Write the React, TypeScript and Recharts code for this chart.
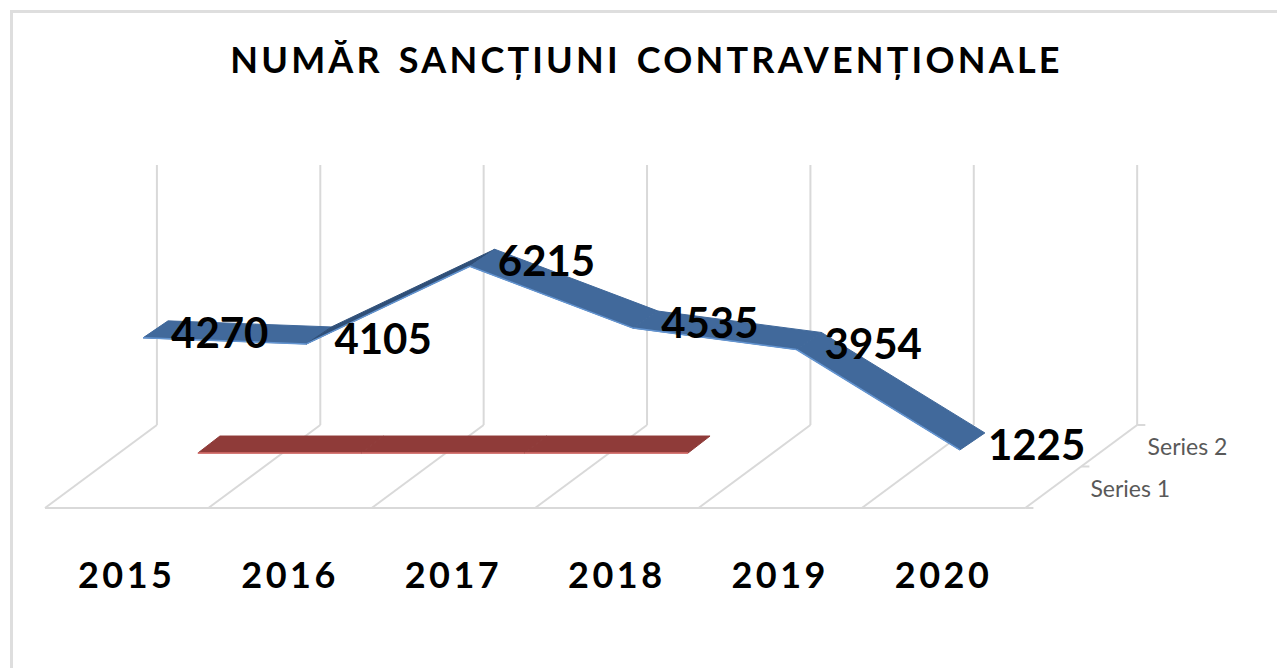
import React from "react";
import { LineChart, Line, XAxis, YAxis, ReferenceLine, ReferenceDot, LabelList } from "recharts";

const titleText = "NUMĂR SANCȚIUNI CONTRAVENȚIONALE";
const years = ["2015", "2016", "2017", "2018", "2019", "2020"];
const series2Values = [4270, 4105, 6215, 4535, 3954, 1225];
const series1Values = [0, 0, 0, 0, null, null];
const depthLabels = ["Series 1", "Series 2"];

const chartData = years.map((year, i) => ({
  i,
  year,
  series2: series2Values[i],
  series1: series1Values[i],
}));

// floor axes: the others are the same scale pushed back along the 3D depth
const floorX: [number, number] = [-0.5, 6.184];
const floorY: [number, number] = [-353, 8967];
const wallX = 0.685; // depth run of the floor, in category units
const wallY = 1902; // value where the floor meets the back wall
const gridColor = "#d9d9d9";
const fontName = "Lato, Carlito, sans-serif";

interface RibbonProps {
  cx?: number;
  cy?: number;
  index?: number;
  points?: Array<{ x: number; y: number | null; value?: unknown }>;
  values: Array<number | null>;
  fill: string;
  rising: string;
  edge: string;
  dx: number;
  dy: number;
}

// one skewed quad per segment, from this point to the next one
const RibbonDot = ({ cx, cy, index = 0, points, values, fill, rising, edge, dx, dy }: RibbonProps) => {
  const next = points ? points[index + 1] : undefined;
  if (cx == null || cy == null || !next || next.y == null || values[index + 1] == null) {
    return <g key={index} />;
  }
  const up = (values[index + 1] as number) > (values[index] as number);
  const quad = `${cx},${cy} ${next.x},${next.y} ${next.x + dx},${next.y - dy} ${cx + dx},${cy - dy}`;
  return (
    <g key={index}>
      <polygon points={quad} fill={up ? rising : fill} stroke={up ? rising : fill} strokeWidth={1} />
      <line x1={cx} y1={cy} x2={next.x} y2={next.y} stroke={edge} strokeWidth={1.5} />
    </g>
  );
};

export default function App() {
  const gridLines = [0, 1, 2, 3, 4, 5, 6].map((n) => n - 0.5);
  return (
    <div style={{ position: "relative", width: 1277, height: 668, overflow: "hidden", background: "#fff" }}>
      <style>{"body{margin:0}"}</style>
      <div style={{ position: "absolute", left: 10, top: 10, right: 0, bottom: 0, borderLeft: "3px solid #dedede", borderTop: "3px solid #dedede" }} />
      <div
        style={{
          position: "absolute",
          left: 0,
          width: 1293,
          top: 37,
          textAlign: "center",
          whiteSpace: "pre",
          fontFamily: fontName,
          fontWeight: 700,
          fontSize: 36,
          letterSpacing: 3.2,
          wordSpacing: 4,
          color: "#000",
        }}
      >
        {titleText}
      </div>
      <div style={{ position: "absolute", left: 0, top: 0 }}>
        <LineChart width={1277} height={668} data={chartData} margin={{ top: 165, right: 140, left: 45, bottom: 0 }}>
          <XAxis
            xAxisId="floor"
            dataKey="i"
            type="number"
            domain={floorX}
            ticks={[0, 1, 2, 3, 4, 5]}
            tickFormatter={(v: number) => years[v]}
            axisLine={false}
            tickLine={false}
            tickSize={0}
            tickMargin={24}
            height={160}
            interval={0}
            tick={{ fill: "#000", fontFamily: fontName, fontWeight: 700, fontSize: 36, letterSpacing: 3.5 }}
          />
          <XAxis xAxisId="back" dataKey="i" type="number" domain={[floorX[0] - 0.1, floorX[1] - 0.1]} hide />
          <XAxis xAxisId="front" dataKey="i" type="number" domain={[floorX[0] - 0.436, floorX[1] - 0.436]} hide />
          <YAxis yAxisId="floor" type="number" domain={floorY} hide />
          <YAxis yAxisId="back" type="number" domain={floorY} hide />
          <YAxis yAxisId="front" type="number" domain={[floorY[0] - 1141, floorY[1] - 1141]} hide />

          {/* the floor axes need a series of their own or the reference marks stay empty */}
          <Line xAxisId="floor" yAxisId="floor" dataKey="series1" stroke="none" dot={false} isAnimationActive={false} legendType="none" />

          {gridLines.map((x) => (
            <ReferenceLine
              key={`floor-${x}`}
              xAxisId="floor"
              yAxisId="floor"
              ifOverflow="visible"
              stroke={gridColor}
              strokeWidth={2}
              segment={[{ x, y: floorY[0] }, { x: x + wallX, y: wallY }]}
            />
          ))}
          {gridLines.map((x) => (
            <ReferenceLine
              key={`wall-${x}`}
              xAxisId="floor"
              yAxisId="floor"
              ifOverflow="visible"
              stroke={gridColor}
              strokeWidth={2}
              segment={[{ x: x + wallX, y: wallY }, { x: x + wallX, y: floorY[1] }]}
            />
          ))}
          <ReferenceLine
            xAxisId="floor"
            yAxisId="floor"
            ifOverflow="visible"
            stroke={gridColor}
            strokeWidth={2}
            segment={[{ x: floorX[0], y: floorY[0] }, { x: 5.5, y: floorY[0] }]}
          />
          {[0, 0.5, 1].map((t) => (
            <ReferenceLine
              key={`depth-${t}`}
              xAxisId="floor"
              yAxisId="floor"
              ifOverflow="visible"
              stroke={gridColor}
              strokeWidth={2}
              segment={[
                { x: 5.5 + t * wallX, y: floorY[0] + t * (wallY - floorY[0]) },
                { x: 5.55 + t * wallX, y: floorY[0] + t * (wallY - floorY[0]) },
              ]}
            />
          ))}
          {depthLabels.map((name, n) => (
            <ReferenceDot
              key={name}
              xAxisId="floor"
              yAxisId="floor"
              ifOverflow="visible"
              x={6.143 + n * 0.35}
              y={175 + n * 1140}
              r={0}
              stroke="none"
              fill="none"
              label={{ value: name, position: "center", fill: "#595959", fontFamily: fontName, fontSize: 23 }}
            />
          ))}

          <Line
            xAxisId="front"
            yAxisId="front"
            dataKey="series1"
            stroke="none"
            isAnimationActive={false}
            dot={(p: any) => (
              <RibbonDot {...p} key={p.index} values={series1Values} fill="#8f3b39" rising="#8f3b39" edge="#d9706d" dx={22} dy={17} />
            )}
          />
          <Line
            xAxisId="back"
            yAxisId="back"
            dataKey="series2"
            stroke="none"
            isAnimationActive={false}
            dot={(p: any) => (
              <RibbonDot {...p} key={p.index} values={series2Values} fill="#41699b" rising="#2f4f78" edge="#6394d0" dx={25} dy={17} />
            )}
          >
            <LabelList
              dataKey="series2"
              position="right"
              offset={28}
              dy={-5}
              fill="#000"
              fontFamily={fontName}
              fontWeight={700}
              fontSize={42}
            />
          </Line>
        </LineChart>
      </div>
    </div>
  );
}
